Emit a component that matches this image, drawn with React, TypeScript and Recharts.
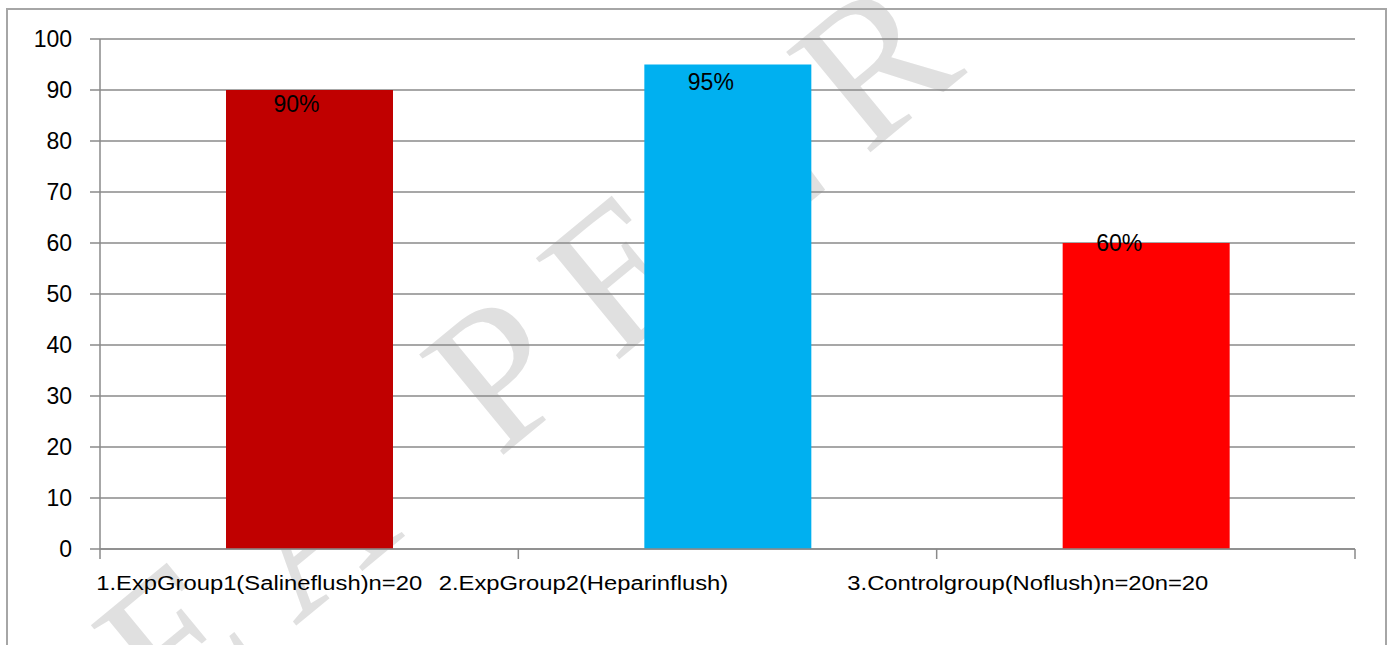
import { Bar, BarChart, CartesianGrid, Cell, LabelList, XAxis, YAxis } from "recharts";

const groups = [
  "1.ExpGroup1(Salineflush)n=20",
  "2.ExpGroup2(Heparinflush)",
  "3.Controlgroup(Noflush)n=20n=20",
];
const successRates = [90, 95, 60];
const barColors = ["#C00000", "#00B0F0", "#FF0000"];
const yTicks = [0, 10, 20, 30, 40, 50, 60, 70, 80, 90, 100];

// label nudges as they sit in the original figure
const categoryLabelShift = [-50, -144, -118];
const valueLabelShiftX = [-13, -17, -27];
const valueLabelShiftY = [13.5, 17, 0];

const chartData = groups.map((group, i) => ({ group, value: successRates[i] }));

const font = "'Liberation Sans', Arial, sans-serif";
const axisGray = "#8a8a8a";

function CategoryTick(props: any) {
  const { x, y, payload, index, visibleTicksCount } = props;
  const half = payload?.offset ?? 0;
  const isLast = index === (visibleTicksCount ?? groups.length) - 1;
  return (
    <g>
      {half > 0 && <line x1={x - half} x2={x - half} y1={y} y2={y + 10} stroke={axisGray} strokeWidth={1.5} />}
      {half > 0 && isLast && <line x1={x + half} x2={x + half} y1={y} y2={y + 10} stroke={axisGray} strokeWidth={1.5} />}
      <text
        transform={`translate(${x + (categoryLabelShift[index] ?? 0)},${y + 41}) scale(1.19,1)`}
        textAnchor="middle"
        fontSize={20}
        fontFamily={font}
        fill="#000"
      >
        {payload.value}
      </text>
    </g>
  );
}

function ValueLabel(props: any) {
  const { x, y, width, value } = props;
  const index = props.index ?? successRates.indexOf(Number(value));
  return (
    <text
      x={x + width / 2 + (valueLabelShiftX[index] ?? 0)}
      y={y + (valueLabelShiftY[index] ?? 0)}
      dy="0.36em"
      textAnchor="middle"
      fontSize={23}
      fontFamily={font}
      fill="#000"
    >
      {value}%
    </text>
  );
}

export default function App() {
  return (
    <div style={{ position: "absolute", left: 0, top: 0, width: 1393, height: 645, background: "#fff", overflow: "hidden" }}>
      <svg width={1393} height={645} style={{ position: "absolute", left: 0, top: 0 }}>
        <text
          x={-780}
          y={66}
          transform="translate(505,368) rotate(-39.5)"
          fontSize={200}
          letterSpacing={40}
          fontFamily="'Liberation Serif', 'DejaVu Serif', serif"
          fill="#e0e0e0"
        >
          IDEA PEER REVIEWED
        </text>
      </svg>
      <div
        style={{
          position: "absolute",
          left: 6,
          top: 8,
          width: 1381,
          height: 700,
          border: "2px solid #a6a6a6",
          boxSizing: "border-box",
        }}
      />
      <div style={{ position: "absolute", left: 0, top: 0 }}>
        <BarChart width={1393} height={645} data={chartData} margin={{ top: 39, right: 38, bottom: 56, left: 0 }}>
          <CartesianGrid vertical={false} stroke={axisGray} strokeWidth={1.5} />
          <XAxis
            dataKey="group"
            axisLine={{ stroke: axisGray, strokeWidth: 1.5 }}
            tickLine={false}
            tickSize={0}
            tickMargin={0}
            interval={0}
            height={40}
            tick={<CategoryTick />}
          />
          <YAxis
            width={100}
            domain={[0, 100]}
            ticks={yTicks}
            interval={0}
            tickSize={10}
            tickMargin={18}
            axisLine={{ stroke: axisGray, strokeWidth: 1.5 }}
            tickLine={{ stroke: axisGray, strokeWidth: 1.5 }}
            tick={{ fill: "#000", fontSize: 23, fontFamily: font }}
          />
          <Bar dataKey="value" barSize={167} isAnimationActive={false}>
            {chartData.map((d, i) => (
              <Cell key={d.group} fill={barColors[i]} />
            ))}
            <LabelList dataKey="value" content={<ValueLabel />} />
          </Bar>
        </BarChart>
      </div>
    </div>
  );
}
